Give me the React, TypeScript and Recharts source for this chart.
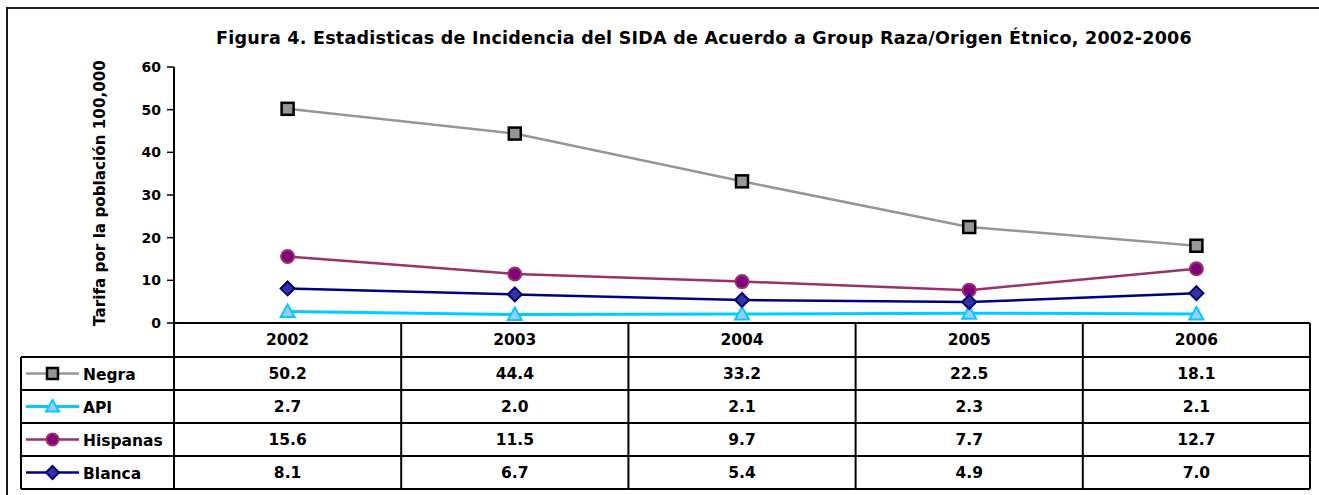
import React from 'react';
import { LineChart, Line, XAxis, YAxis } from 'recharts';

const YEARS = ['2002', '2003', '2004', '2005', '2006'];
const NEGRA = [50.2, 44.4, 33.2, 22.5, 18.1];
const API = [2.7, 2.0, 2.1, 2.3, 2.1];
const HISPANAS = [15.6, 11.5, 9.7, 7.7, 12.7];
const BLANCA = [8.1, 6.7, 5.4, 4.9, 7.0];
const Y_TICKS = [0, 10, 20, 30, 40, 50, 60];
const TITLE = 'Figura 4. Estadisticas de Incidencia del SIDA de Acuerdo a Group Raza/Origen Étnico, 2002-2006';
const Y_LABEL = 'Tarifa por la población 100,000';

type Marker = 'square' | 'triangle' | 'circle' | 'diamond';
const SERIES: { key: string; name: string; values: number[]; line: string; fill: string; stroke: string; marker: Marker; width: number }[] = [
  { key: 'negra', name: 'Negra', values: NEGRA, line: '#969696', fill: '#969696', stroke: '#000000', marker: 'square', width: 2.5 },
  { key: 'api', name: 'API', values: API, line: '#00CCFF', fill: '#99CCFF', stroke: '#00CCFF', marker: 'triangle', width: 3 },
  { key: 'hispanas', name: 'Hispanas', values: HISPANAS, line: '#993366', fill: '#800080', stroke: '#993366', marker: 'circle', width: 2.5 },
  { key: 'blanca', name: 'Blanca', values: BLANCA, line: '#000080', fill: '#333399', stroke: '#000080', marker: 'diamond', width: 2.5 },
];

const data = YEARS.map((y, i) => {
  const row: any = { year: y };
  SERIES.forEach((s) => (row[s.key] = s.values[i]));
  return row;
});

const W = 1319;
const H = 495;
const PLOT_LEFT = 174;
const PLOT_RIGHT = 1310;
const PLOT_TOP = 67;
const PLOT_BOTTOM = 323;
const BAND = (PLOT_RIGHT - PLOT_LEFT) / YEARS.length;
const HEADER_H = 34;
const ROW_H = 33;
const LEGEND_LEFT = 21;
const FONT = "'DejaVu Sans', 'Liberation Sans', Arial, sans-serif";
const TABLE_FS = 15.5;

function MarkerShape({ cx, cy, s, size = 12 }: { cx: number; cy: number; s: (typeof SERIES)[number]; size?: number }) {
  const h = size / 2;
  if (s.marker === 'square')
    return <rect x={cx - h} y={cy - h} width={size} height={size} fill={s.fill} stroke={s.stroke} strokeWidth={2.5} />;
  if (s.marker === 'circle') return <circle cx={cx} cy={cy} r={h + 0.5} fill={s.fill} stroke={s.stroke} strokeWidth={2} />;
  if (s.marker === 'diamond')
    return (
      <polygon
        points={`${cx},${cy - h - 1} ${cx + h + 1},${cy} ${cx},${cy + h + 1} ${cx - h - 1},${cy}`}
        fill={s.fill}
        stroke={s.stroke}
        strokeWidth={2}
      />
    );
  return (
    <polygon
      points={`${cx},${cy - h - 1} ${cx + h + 1},${cy + h - 0.5} ${cx - h - 1},${cy + h - 0.5}`}
      fill={s.fill}
      stroke={s.stroke}
      strokeWidth={2}
    />
  );
}

function TableTick(props: any) {
  const { x, payload } = props;
  const i: number = payload.index;
  const left = x - BAND / 2;
  const right = x + BAND / 2;
  const top = PLOT_BOTTOM;
  const rowTops = SERIES.map((_, r) => top + HEADER_H + r * ROW_H);
  const bottom = top + HEADER_H + SERIES.length * ROW_H;
  const txt = { fontFamily: FONT, fontWeight: 700, fontSize: TABLE_FS, fill: '#000' } as any;
  return (
    <g>
      {i === 0 && <line x1={left} y1={top} x2={left} y2={bottom} stroke="#000" strokeWidth={2} />}
      <line x1={right} y1={top} x2={right} y2={bottom} stroke="#000" strokeWidth={2} />
      {rowTops.map((ry, r) => (
        <line key={r} x1={left} y1={ry} x2={right} y2={ry} stroke="#000" strokeWidth={2} />
      ))}
      <line x1={left} y1={bottom} x2={right} y2={bottom} stroke="#000" strokeWidth={2} />
      <text x={x} y={top + HEADER_H / 2} textAnchor="middle" dominantBaseline="central" style={txt}>
        {payload.value}
      </text>
      {SERIES.map((s, r) => (
        <text key={s.key} x={x} y={rowTops[r] + ROW_H / 2} textAnchor="middle" dominantBaseline="central" style={txt}>
          {s.values[i].toFixed(1)}
        </text>
      ))}
      {i === 0 && (
        <g>
          <line x1={LEGEND_LEFT} y1={rowTops[0]} x2={LEGEND_LEFT} y2={bottom} stroke="#000" strokeWidth={2} />
          {rowTops.map((ry, r) => (
            <line key={'l' + r} x1={LEGEND_LEFT} y1={ry} x2={left} y2={ry} stroke="#000" strokeWidth={2} />
          ))}
          <line x1={LEGEND_LEFT} y1={bottom} x2={left} y2={bottom} stroke="#000" strokeWidth={2} />
          {SERIES.map((s, r) => {
            const cy = rowTops[r] + ROW_H / 2;
            return (
              <g key={'lg' + s.key}>
                <line x1={LEGEND_LEFT + 5} y1={cy} x2={LEGEND_LEFT + 58} y2={cy} stroke={s.line} strokeWidth={s.width} />
                <MarkerShape cx={LEGEND_LEFT + 31.5} cy={cy} s={s} size={11} />
                <text x={LEGEND_LEFT + 62} y={cy + 1} dominantBaseline="central" style={txt}>
                  {s.name}
                </text>
              </g>
            );
          })}
        </g>
      )}
    </g>
  );
}

function YLabel(props: any) {
  const vb = props.viewBox || { x: 0, y: PLOT_TOP, width: PLOT_LEFT, height: PLOT_BOTTOM - PLOT_TOP };
  const cx = vb.x + 100;
  const cy = vb.y + vb.height / 2 - 2;
  return (
    <text
      x={cx}
      y={cy}
      transform={`rotate(-90, ${cx}, ${cy})`}
      textAnchor="middle"
      dominantBaseline="central"
      style={{ fontFamily: FONT, fontWeight: 700, fontSize: 15.2, fill: '#000' }}
    >
      {Y_LABEL}
    </text>
  );
}

export default function App() {
  return (
    <div style={{ position: 'absolute', left: 0, top: 0, width: W, height: H, overflow: 'hidden', background: '#fff' }}>
      <div
        style={{
          position: 'absolute',
          left: 6,
          top: 7,
          width: W + 20,
          height: H + 20,
          borderTop: '2px solid #1a1a1a',
          borderLeft: '2px solid #1a1a1a',
        }}
      />
      <div
        style={{
          position: 'absolute',
          left: 104,
          width: 1200,
          top: 28,
          textAlign: 'center',
          fontFamily: FONT,
          fontWeight: 700,
          fontSize: 17.5,
          letterSpacing: 0.25,
          lineHeight: '20px',
          color: '#000',
          whiteSpace: 'nowrap',
        }}
      >
        {TITLE}
      </div>
      <div style={{ position: 'absolute', left: 0, top: 0 }}>
        <LineChart
          width={W}
          height={H}
          data={data}
          margin={{ top: PLOT_TOP, right: W - PLOT_RIGHT, bottom: 7, left: 0 }}
        >
          <XAxis
            dataKey="year"
            scale="band"
            height={H - PLOT_BOTTOM - 7}
            axisLine={{ stroke: '#000', strokeWidth: 2 }}
            tickLine={false}
            interval={0}
            tick={<TableTick />}
          />
          <YAxis
            width={PLOT_LEFT}
            domain={[0, 60]}
            ticks={Y_TICKS}
            interval={0}
            axisLine={{ stroke: '#000', strokeWidth: 2 }}
            tickLine={{ stroke: '#000', strokeWidth: 1.5 }}
            tickSize={7}
            tickMargin={6}
            tick={{ fontFamily: FONT, fontWeight: 700, fontSize: 14, fill: '#000' }}
            label={<YLabel />}
          />
          {SERIES.map((s) => (
            <Line
              key={s.key}
              dataKey={s.key}
              name={s.name}
              stroke={s.line}
              strokeWidth={s.width}
              isAnimationActive={false}
              dot={(p: any) => <MarkerShape key={s.key + p.index} cx={p.cx} cy={p.cy} s={s} size={12} />}
              activeDot={false}
            />
          ))}
        </LineChart>
      </div>
    </div>
  );
}
